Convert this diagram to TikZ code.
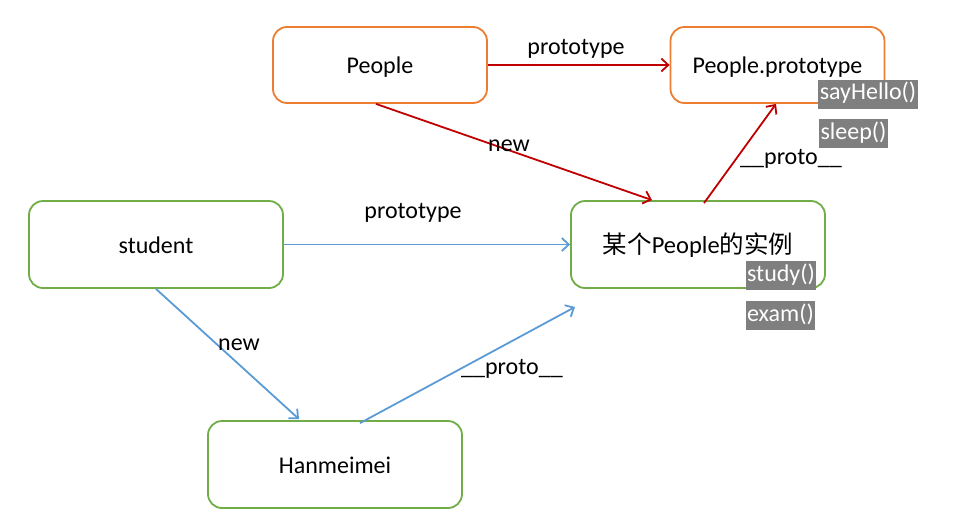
\documentclass[tikz,border=0pt]{standalone}
\usepackage{fontspec}
\setmainfont{Carlito}
\newfontfamily\cjk{Noto Sans CJK SC}
\usetikzlibrary{arrows.meta}
\definecolor{orangeB}{HTML}{ED7D31}
\definecolor{greenB}{HTML}{70AD47}
\definecolor{redA}{HTML}{C00000}
\definecolor{blueA}{HTML}{5B9BD5}
\definecolor{grayL}{HTML}{7F7F7F}
\tikzset{
  obox/.style={draw=orangeB, line width=1.8pt, rounded corners=14pt, fill=white,
    minimum width=214pt, minimum height=76pt, text height=17pt, text depth=0pt,
    font=\fontsize{24}{28}\selectfont},
  gbox/.style={draw=greenB, line width=1.8pt, rounded corners=14pt, fill=white,
    minimum width=254pt, minimum height=87pt, text height=17pt, text depth=0pt,
    font=\fontsize{24}{28}\selectfont},
  tag/.style={fill=grayL, text=white, inner xsep=1.5pt, inner ysep=0pt,
    minimum height=29pt, text height=17pt, text depth=6pt,
    font=\fontsize{24}{28}\selectfont},
  lbl/.style={font=\fontsize{24}{28}\selectfont, inner sep=0pt, text height=17pt, text depth=0pt},
  redarr/.style={draw=redA, line width=1.8pt, -{Straight Barb[length=7pt,width=13pt]}},
  bluearr/.style={draw=blueA, line width=1.8pt, -{Straight Barb[length=7pt,width=13pt]}}
}
\begin{document}
\begin{tikzpicture}[x=1pt,y=-1pt]
\useasboundingbox (0,0) rectangle (953,528);
\node[obox] (people) at (380,65) {People};
\node[obox] (pp) at (777.5,65) {People.prototype};
\node[gbox] (student) at (156,244.5) {student};
\node[gbox] (inst) at (698,244.5) {{\cjk\fontsize{24.5}{30}\selectfont 某个}{\fontsize{24.5}{30}\selectfont People}{\cjk\fontsize{24.5}{30}\selectfont 的实例}};
\node[gbox] (han) at (335,464.5) {Hanmeimei};
\node[tag] (sayhello) at (868,94) {sayHello()};
\node[tag] (sleep) at (853.5,133.5) {sleep()};
\node[tag] (study) at (781,275.5) {study()};
\node[tag] (exam) at (780.5,315.5) {exam()};
\coordinate (hanend) at (575,307);
\draw[redarr] (people.east) -- (pp.west);
\draw[redarr] ([xshift=-4pt]people.south) -- ([xshift=-46pt]inst.north);
\draw[redarr] ([xshift=6pt,yshift=-3pt]inst.north) -- ([xshift=-1.5pt]pp.south);
\draw[bluearr] (student.east) -- (inst.west);
\draw[bluearr] (student.south) -- ([xshift=-36pt,yshift=1pt]han.north);
\draw[bluearr] ([xshift=25pt,yshift=-3pt]han.north) -- (hanend);
\node[lbl] (l1) at (576,46) {prototype};
\node[lbl] (l2) at (509,143) {new};
\node[lbl] (l3) at (791,156) {\_\_proto\_\_};
\node[lbl] (l4) at (413,210) {prototype};
\node[lbl] (l5) at (239,342) {new};
\node[lbl] (l6) at (512,366) {\_\_proto\_\_};
\end{tikzpicture}
\end{document}
